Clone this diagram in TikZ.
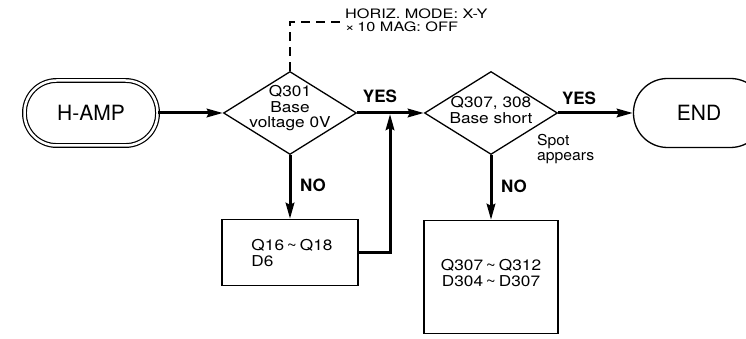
\documentclass[tikz,border=0pt]{standalone}
\usepackage{graphicx}
\usepackage{fontspec}
\setmainfont{TeX Gyre Heros}
\usetikzlibrary{arrows.meta, shapes.geometric}

% lines of text set a little wider than the font
\newcommand{\widelines}[3][c]{\scalebox{#2}[1]{\begin{tabular}{@{}#1@{}}#3\end{tabular}}}

\begin{document}
\begin{tikzpicture}[x=1pt, y=1pt,
    >={Stealth[length=16pt, width=8.5pt, inset=2pt]},
    flow/.style={->, line width=3pt},
    outline/.style={draw, line width=1.3pt},
    terminal/.style={outline, rectangle, rounded corners=34pt, minimum height=69pt,
        font=\fontsize{21}{24}\selectfont},
    decision/.style={outline, diamond, minimum width=133pt, minimum height=83pt, inner sep=0pt},
    process/.style={outline, rectangle, inner sep=0pt},
    body/.style={inner sep=0pt, font=\fontsize{15}{15}\selectfont},
    answer/.style={inner sep=0pt, font=\fontsize{17}{20}\selectfont\bfseries},
    note line/.style={line width=1.2pt, dash pattern=on 9pt off 6pt},
]
    % ================= Canvas =================
    \useasboundingbox (0,0) rectangle (746,339);

    % ================= Terminals =================
    \node[terminal, line width=1.2pt, double, double distance=2.5pt,
          minimum width=133pt, minimum height=65pt, rounded corners=32pt]
          (start) at (91,226) {H-AMP};
    \node[terminal, minimum width=131pt] (end) at (699,226) {END};

    % ================= Decisions =================
    \node[decision] (d1) at (290,226) {};
    \node[body] (d1txt) at (290,230) {\widelines{1.15}{Q301\\Base\\voltage 0V}};

    \node[decision] (d2) at (491,226) {};
    \node[body] (d2txt) at (491,227) {\widelines{1.15}{Q307, 308\\Base short}};

    % ================= Processes =================
    \node[process, minimum width=136pt, minimum height=66pt] (box1) at (290,86.5) {};
    \node[body] (box1txt) at (292,84)
          {\widelines[l]{1.15}{Q16\,\textasciitilde\,Q18\\D6}};

    \node[process, minimum width=134pt, minimum height=113pt] (box2) at (491,62) {};
    \node[body] (box2txt) at (491,64)
          {\widelines{1.15}{Q307\,\textasciitilde\,Q312\\D304\,\textasciitilde\,D307}};

    % ================= Setting note =================
    \node[body, anchor=west, font=\fontsize{13}{12.5}\selectfont] (note) at (345,317)
          {\widelines[l]{1.25}{HORIZ. MODE: X-Y\\×\,10 MAG: OFF}};
    \draw[note line, shorten >=4pt] (d1.north) |- (note.west);

    % ================= Flow =================
    \coordinate (join) at (390,225);

    \draw[flow] (start) -- (d1);
    \draw[flow] (d1) -- (d2);
    \draw[flow] (d2) -- (end);
    \draw[flow] (d1) -- (box1);
    \draw[flow] (d2) -- (box2);
    \draw[flow] (box1.east) -| (join);

    % ================= Answers =================
    \node[answer] (yes1) at (380,243) {YES};
    \node[answer] (yes2) at (579,241) {YES};
    \node[answer] (no1) at (313,154) {NO};
    \node[answer] (no2) at (514,153) {NO};
    \node[body, anchor=west] (spot) at (537,189) {\widelines[l]{1.05}{Spot\\appears}};

\end{tikzpicture}
\end{document}
